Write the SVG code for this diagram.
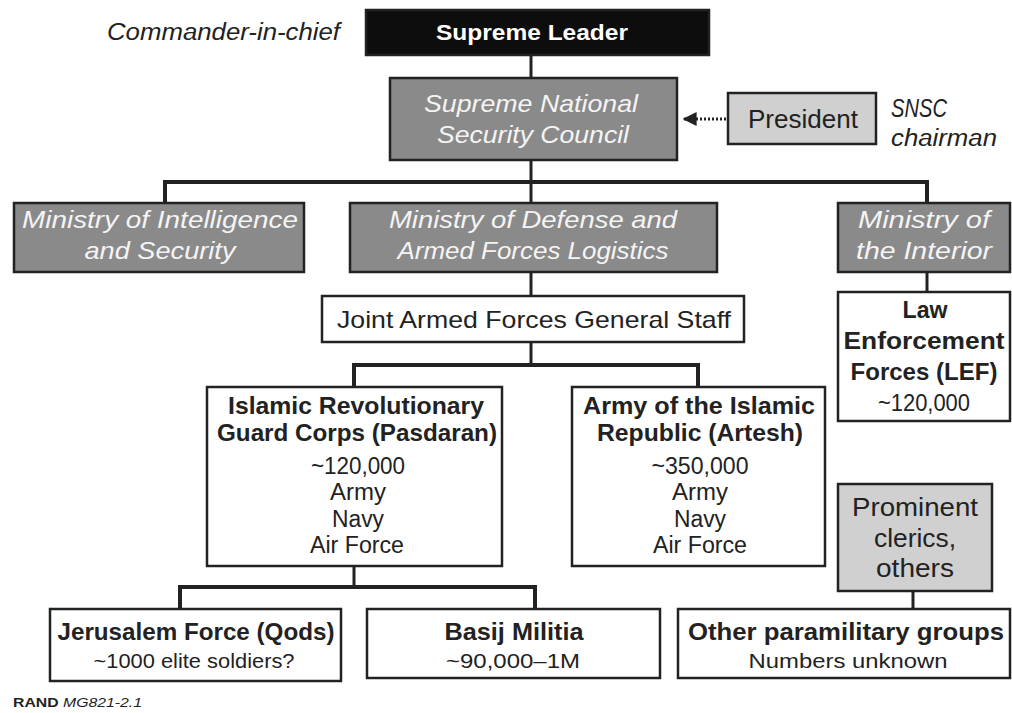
<svg xmlns="http://www.w3.org/2000/svg" width="1012" height="713" viewBox="0 0 1012 713">
<style>
.box{stroke:#222;stroke-width:2.5}
.dark{fill:#0d0d0d}
.mid{fill:#8a8a8a}
.light{fill:#d0d0d0}
.white{fill:#ffffff}
text{font-family:"Liberation Sans",Arial,sans-serif;text-anchor:middle}
.wi{fill:#f4f4f4;font-style:italic;font-size:24px}
.b{font-weight:bold;fill:#222;font-size:24px}
.r{fill:#222;font-size:23px}
.s{fill:#222;font-size:21px}
.lbl{font-style:italic;fill:#222;font-size:23px;text-anchor:start}
.conn{stroke:#222;stroke-width:3;fill:none}
.bar{stroke:#222;stroke-width:4;fill:none}
</style>
<defs>
<marker id="ah" viewBox="0 0 10 10" refX="9" refY="5" markerWidth="14" markerHeight="14" orient="auto" markerUnits="userSpaceOnUse">
<path d="M0,0 L10,5 L0,10 z" fill="#222"/>
</marker>
</defs>
<rect width="1012" height="713" fill="#ffffff"/>
<g id="connectors">
<path class="conn" d="M531,55 V78"/>
<path class="conn" d="M531,160 V182"/>
<path class="bar" d="M165,203 V182 H927 V203"/>
<path class="conn" d="M531,182 V203"/>
<path class="conn" d="M531,272 V296"/>
<path class="conn" d="M927,272 V292"/>
<path class="conn" d="M531,342 V365"/>
<path class="bar" d="M354,387 V365 H698 V387"/>
<path class="conn" d="M354,566 V587"/>
<path class="bar" d="M180,609 V587 H535 V609"/>
<path class="conn" d="M913,591 V609"/>
<path d="M726,119 H684" stroke="#222" stroke-width="3" stroke-dasharray="2,2" fill="none" marker-end="url(#ah)"/>
</g>
<g id="commander-label"><text class="lbl" x="107" y="40" textLength="233" lengthAdjust="spacingAndGlyphs">Commander-in-chief</text></g>
<g id="supreme-leader">
<rect class="box dark" x="366" y="10" width="343" height="45"/>
<text x="532" y="40" style="fill:#fff;font-weight:bold;font-size:22px" textLength="192" lengthAdjust="spacingAndGlyphs">Supreme Leader</text>
</g>
<g id="snsc">
<rect class="box mid" x="390" y="78" width="287" height="82"/>
<text class="wi" x="531" y="112" textLength="214" lengthAdjust="spacingAndGlyphs">Supreme National</text>
<text class="wi" x="533" y="143" textLength="192" lengthAdjust="spacingAndGlyphs">Security Council</text>
</g>
<g id="president">
<rect class="box light" x="728" y="93" width="148" height="51"/>
<text class="r" x="803" y="128" style="font-size:25px" textLength="110" lengthAdjust="spacingAndGlyphs">President</text>
</g>
<g id="snsc-chairman-label">
<text class="lbl" x="891" y="117" style="font-size:25px" textLength="56" lengthAdjust="spacingAndGlyphs">SNSC</text>
<text class="lbl" x="891" y="146" textLength="106" lengthAdjust="spacingAndGlyphs">chairman</text>
</g>
<g id="ministry-intelligence">
<rect class="box mid" x="14" y="203" width="290" height="69"/>
<text class="wi" x="160" y="228" textLength="276" lengthAdjust="spacingAndGlyphs">Ministry of Intelligence</text>
<text class="wi" x="160" y="259" textLength="151" lengthAdjust="spacingAndGlyphs">and Security</text>
</g>
<g id="ministry-defense">
<rect class="box mid" x="350" y="203" width="367" height="69"/>
<text class="wi" x="533" y="228" textLength="288" lengthAdjust="spacingAndGlyphs">Ministry of Defense and</text>
<text class="wi" x="533" y="259" textLength="271" lengthAdjust="spacingAndGlyphs">Armed Forces Logistics</text>
</g>
<g id="ministry-interior">
<rect class="box mid" x="838" y="203" width="172" height="69"/>
<text class="wi" x="924" y="228" textLength="132" lengthAdjust="spacingAndGlyphs">Ministry of</text>
<text class="wi" x="924" y="259" textLength="136" lengthAdjust="spacingAndGlyphs">the Interior</text>
</g>
<g id="jafgs">
<rect class="box white" x="322" y="296" width="422" height="46"/>
<text class="r" x="534" y="328" style="font-size:24px" textLength="394" lengthAdjust="spacingAndGlyphs">Joint Armed Forces General Staff</text>
</g>
<g id="lef">
<rect class="box white" x="838" y="292" width="172" height="129"/>
<text class="b" x="925" y="318" textLength="45" lengthAdjust="spacingAndGlyphs">Law</text>
<text class="b" x="924" y="349" textLength="161" lengthAdjust="spacingAndGlyphs">Enforcement</text>
<text class="b" x="924" y="380" textLength="147" lengthAdjust="spacingAndGlyphs">Forces (LEF)</text>
<text class="r" x="924" y="411" textLength="92" lengthAdjust="spacingAndGlyphs">~120,000</text>
</g>
<g id="irgc">
<rect class="box white" x="207" y="387" width="295" height="179"/>
<text class="b" x="356" y="414" textLength="256" lengthAdjust="spacingAndGlyphs">Islamic Revolutionary</text>
<text class="b" x="357" y="441" textLength="280" lengthAdjust="spacingAndGlyphs">Guard Corps (Pasdaran)</text>
<text class="r" x="358" y="474" textLength="94" lengthAdjust="spacingAndGlyphs">~120,000</text>
<text class="r" x="358" y="500" textLength="56" lengthAdjust="spacingAndGlyphs">Army</text>
<text class="r" x="358" y="527" textLength="52" lengthAdjust="spacingAndGlyphs">Navy</text>
<text class="r" x="357" y="553" textLength="94" lengthAdjust="spacingAndGlyphs">Air Force</text>
</g>
<g id="artesh">
<rect class="box white" x="572" y="387" width="253" height="179"/>
<text class="b" x="699" y="414" textLength="232" lengthAdjust="spacingAndGlyphs">Army of the Islamic</text>
<text class="b" x="700" y="441" textLength="206" lengthAdjust="spacingAndGlyphs">Republic (Artesh)</text>
<text class="r" x="700" y="474" textLength="97" lengthAdjust="spacingAndGlyphs">~350,000</text>
<text class="r" x="700" y="500" textLength="56" lengthAdjust="spacingAndGlyphs">Army</text>
<text class="r" x="700" y="527" textLength="52" lengthAdjust="spacingAndGlyphs">Navy</text>
<text class="r" x="700" y="553" textLength="94" lengthAdjust="spacingAndGlyphs">Air Force</text>
</g>
<g id="prominent-clerics">
<rect class="box light" x="838" y="484" width="154" height="107"/>
<text class="r" x="915" y="516" style="font-size:25px" textLength="126" lengthAdjust="spacingAndGlyphs">Prominent</text>
<text class="r" x="915" y="547" style="font-size:25px" textLength="82" lengthAdjust="spacingAndGlyphs">clerics,</text>
<text class="r" x="915" y="577" style="font-size:25px" textLength="78" lengthAdjust="spacingAndGlyphs">others</text>
</g>
<g id="jerusalem-force">
<rect class="box white" x="50" y="609" width="291" height="72"/>
<text class="b" x="196" y="640" textLength="277" lengthAdjust="spacingAndGlyphs">Jerusalem Force (Qods)</text>
<text class="s" x="194" y="668" textLength="201" lengthAdjust="spacingAndGlyphs">~1000 elite soldiers?</text>
</g>
<g id="basij">
<rect class="box white" x="367" y="609" width="293" height="69"/>
<text class="b" x="514" y="640" textLength="139" lengthAdjust="spacingAndGlyphs">Basij Militia</text>
<text class="s" x="513" y="668" textLength="134" lengthAdjust="spacingAndGlyphs">~90,000–1M</text>
</g>
<g id="other-paramilitary">
<rect class="box white" x="678" y="609" width="332" height="69"/>
<text class="b" x="846" y="640" textLength="316" lengthAdjust="spacingAndGlyphs">Other paramilitary groups</text>
<text class="s" x="848" y="668" textLength="199" lengthAdjust="spacingAndGlyphs">Numbers unknown</text>
</g>
<g id="source">
<text x="13" y="707" style="text-anchor:start;font-size:12px;fill:#222" textLength="129" lengthAdjust="spacingAndGlyphs"><tspan font-weight="bold">RAND </tspan><tspan font-style="italic">MG821-2.1</tspan></text>
</g>
</svg>
